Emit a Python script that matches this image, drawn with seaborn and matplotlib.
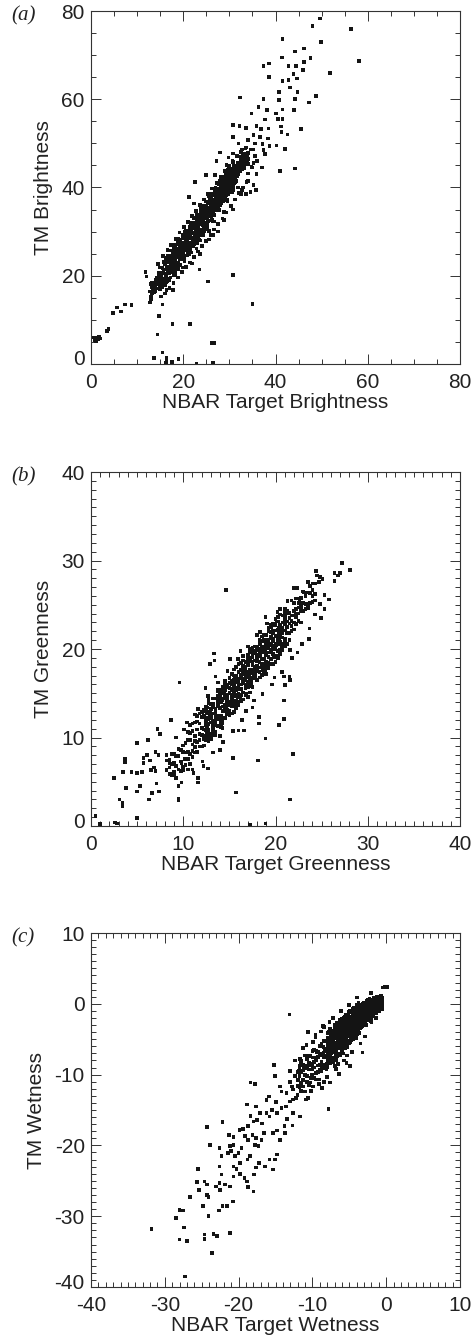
import matplotlib
matplotlib.use("Agg")
import matplotlib.pyplot as plt
import matplotlib.transforms as mtransforms
import seaborn as sns
import pandas as pd
from matplotlib.ticker import MultipleLocator

# ---------------- Panel (a): Brightness ----------------
a_outer = [
    (49.6, 78.3), (48.0, 76.6), (56.3, 75.9), (49.8, 73.0), (41.5, 73.6), (58.1, 68.7),
    (44.2, 70.8), (46.2, 71.5), (42.8, 67.6), (44.5, 67.5), (46.2, 68.5), (47.6, 69.3),
    (38.6, 68.1), (37.4, 67.5), (41.4, 69.5), (51.8, 66.0), (38.6, 65.1), (45.9, 66.6),
    (43.9, 65.7), (42.8, 64.3), (44.6, 64.7), (41.5, 64.1), (43.1, 62.7), (40.7, 61.7),
    (44.8, 61.7), (48.8, 60.7), (32.3, 60.4), (37.4, 60.0), (40.8, 59.8), (44.2, 60.0),
    (47.2, 59.3), (44.0, 57.6), (41.5, 57.7), (40.1, 56.8), (38.1, 57.6), (36.3, 58.2),
    (34.8, 56.8), (40.5, 55.5), (41.5, 55.6), (37.7, 55.4), (30.8, 54.2), (32.2, 53.9),
    (33.6, 53.5), (35.9, 53.9), (36.8, 53.2), (38.5, 53.4), (41.2, 53.8), (45.5, 53.2),
    (41.3, 52.6), (42.6, 52.0), (35.2, 51.9), (36.6, 51.5), (38.4, 51.1), (30.8, 51.5),
    (34.1, 50.8), (32.0, 50.0), (35.6, 50.0), (37.2, 49.8), (40.2, 49.5), (33.7, 49.1),
    (32.7, 48.6), (35.2, 48.6), (37.4, 48.5), (38.7, 49.4), (42.1, 48.7), (37.7, 47.6),
    (30.8, 47.7), (27.9, 47.9), (29.8, 46.8), (32.2, 47.0), (33.7, 46.4), (35.6, 47.1),
    (27.2, 46.0), (30.8, 45.8), (33.0, 45.8), (35.2, 45.5), (29.4, 45.1), (31.4, 44.9),
    (33.2, 44.7), (34.8, 44.7), (37.0, 44.5), (41.0, 43.8), (44.2, 44.3), (30.8, 43.8),
    (32.3, 43.6), (34.1, 43.2), (35.9, 43.1), (26.9, 42.8), (28.7, 42.4), (30.5, 42.4),
    (24.9, 42.8), (22.5, 41.3), (33.7, 41.3), (35.2, 40.6), (32.7, 39.4), (34.6, 39.0),
    (35.7, 39.4), (33.6, 38.6), (32.5, 38.6), (30.8, 35.0), (21.3, 37.9), (22.3, 36.4),
    (28.8, 32.6), (27.6, 30.0), (26.5, 29.2), (25.6, 28.2), (23.6, 24.9), (21.9, 22.8),
    (23.5, 21.4), (30.8, 20.2), (25.4, 18.7), (11.8, 20.9), (12.0, 19.8), (14.2, 19.0),
    (12.8, 16.4), (16.4, 16.8), (17.8, 16.8), (35.0, 13.6), (12.8, 13.9), (15.5, 13.5),
    (7.4, 13.5), (8.8, 13.4), (5.6, 12.8), (4.7, 11.6), (6.5, 11.9), (14.8, 10.9),
    (17.7, 9.1), (21.4, 9.1), (3.8, 7.9), (3.5, 7.5), (14.4, 6.7),
    (0.4, 6.0), (0.9, 5.9), (1.3, 5.6), (0.9, 5.4), (1.7, 5.9), (1.5, 5.7), (2.0, 5.8),
    (1.1, 5.2), (1.8, 6.1), (26.2, 4.8), (26.7, 4.8), (15.5, 2.6), (13.7, 1.3),
    (16.4, 1.5), (16.4, 0.75), (17.6, 0.5), (19.0, 1.05), (22.9, 0.05), (26.5, 0.15),
    (16.2, 0.15),
]
a_halo = [
    (14.5, 22.6), (15.2, 15.3), (15.6, 24.5), (16.1, 16.0), (16.6, 25.9), (17.0, 17.2),
    (17.4, 27.0), (17.9, 18.4), (18.3, 28.4), (18.8, 19.6), (19.2, 29.8), (19.7, 20.8),
    (20.1, 31.0), (20.6, 22.0), (21.0, 32.2), (21.4, 23.0), (21.9, 33.6), (22.3, 24.3),
    (22.8, 34.7), (23.2, 25.5), (23.6, 36.0), (24.1, 26.8), (24.5, 37.3), (25.0, 27.9),
    (25.4, 38.6), (25.9, 29.2), (26.3, 39.8), (26.7, 30.5), (27.2, 41.0), (27.6, 31.8),
    (28.1, 42.4), (28.5, 33.0), (29.0, 43.7), (29.4, 34.3), (29.9, 44.8), (30.3, 35.8),
    (30.7, 46.0), (31.2, 37.3), (31.6, 47.2), (32.1, 38.8), (32.5, 48.0), (33.0, 40.0),
    (33.5, 49.0), (34.0, 41.5), (34.6, 48.6), (35.0, 44.5), (35.5, 47.0), (36.0, 46.0),
    (16.3, 24.0), (18.0, 26.8), (19.9, 21.9), (21.6, 31.8), (22.9, 26.2), (24.4, 35.9),
    (25.6, 30.2), (27.0, 40.0), (28.8, 34.5), (30.1, 44.0), (31.9, 40.0), (33.2, 47.6),
    (17.2, 19.6), (19.0, 22.7), (20.4, 29.9), (23.7, 28.0), (26.8, 32.3), (29.6, 37.0),
]
a_fill = [
    (16.1, 18.7), (16.1, 22.8), (16.4, 23.6), (16.4, 22.1), (16.7, 20.8), (16.7, 23.9),
    (17.0, 23.8), (17.0, 21.0), (17.3, 21.8), (17.3, 22.3), (17.6, 21.6), (17.6, 22.5),
    (17.9, 22.7), (17.9, 24.4), (18.2, 25.5), (18.2, 23.8), (18.5, 23.0), (18.5, 26.2),
    (18.8, 22.9), (18.8, 25.9), (19.1, 26.2), (19.1, 24.5), (19.4, 28.1), (19.4, 27.0),
    (19.7, 23.7), (19.7, 26.5), (20.0, 24.7), (20.0, 29.2), (20.3, 26.8), (20.3, 26.5),
    (20.6, 27.8), (20.6, 25.7), (20.9, 25.2), (20.9, 29.5), (21.2, 29.0), (21.2, 25.6),
    (21.5, 27.3), (21.5, 29.3), (21.8, 26.6), (21.8, 31.9), (22.1, 31.6), (22.1, 28.2),
    (22.4, 27.2), (22.4, 29.8), (22.7, 28.9), (22.7, 29.4), (23.0, 29.1), (23.0, 32.6),
    (23.3, 28.7), (23.3, 32.9), (23.6, 33.5), (23.6, 29.6), (23.9, 33.8), (23.9, 29.9),
    (24.2, 32.6), (24.2, 31.5), (24.5, 34.8), (24.5, 31.8), (24.8, 34.3), (24.8, 33.2),
    (25.1, 31.5), (25.1, 33.1), (25.4, 33.9), (25.4, 34.8), (25.7, 37.3), (25.7, 34.7),
    (26.0, 35.6), (26.0, 33.5), (26.3, 34.5), (26.3, 36.9), (26.6, 36.2), (26.6, 35.4),
    (26.9, 35.9), (26.9, 38.2), (27.2, 35.6), (27.2, 36.8), (27.5, 35.0), (27.5, 39.2),
    (27.8, 37.5), (27.8, 35.0), (28.1, 40.2), (28.1, 35.9), (28.4, 37.3), (28.4, 41.4),
    (28.7, 41.6), (28.7, 37.0), (29.0, 37.8), (29.0, 41.8), (29.3, 40.2), (29.3, 39.3),
    (29.6, 41.2), (29.6, 40.1), (29.9, 39.2), (29.9, 43.4), (30.2, 43.5), (30.2, 41.5),
    (30.5, 44.2), (30.5, 38.9), (30.8, 43.9), (30.8, 39.4),
]
a_core = [
    (13.0, 14.7), (13.0, 15.3), (13.0, 18.1), (13.25, 17.3), (13.25, 16.0), (13.25, 18.3),
    (13.5, 18.3), (13.5, 16.2), (13.5, 16.5), (13.75, 17.2), (13.75, 16.3), (13.75, 17.8),
    (14.0, 17.2), (14.0, 16.6), (14.0, 19.0), (14.25, 18.1), (14.25, 17.1), (14.25, 19.6),
    (14.5, 17.1), (14.5, 19.4), (14.5, 18.8), (14.75, 18.3), (14.75, 20.7), (14.75, 19.9),
    (15.0, 16.9), (15.0, 19.7), (15.0, 17.4), (15.0, 21.9),
    (15.25, 19.5), (15.25, 18.7), (15.25, 20.1), (15.25, 18.0),
    (15.5, 17.4), (15.5, 21.7), (15.5, 20.7), (15.5, 18.4),
    (15.75, 19.0), (15.75, 21.0), (15.75, 17.8), (15.75, 23.1),
    (16.0, 22.7), (16.0, 19.4), (16.0, 17.9), (16.0, 20.5),
    (16.25, 19.5), (16.25, 20.1), (16.25, 21.4), (16.25, 18.6),
    (16.5, 18.8), (16.5, 23.0), (16.5, 22.1), (16.5, 19.3),
    (16.75, 23.5), (16.75, 24.4), (16.75, 21.8), (16.75, 20.7),
    (17.0, 24.4), (17.0, 20.6), (17.0, 23.3), (17.0, 21.9), (17.0, 19.1),
    (17.25, 21.6), (17.25, 22.0), (17.25, 23.2), (17.25, 25.7), (17.25, 22.5),
    (17.5, 23.4), (17.5, 20.8), (17.5, 21.4), (17.5, 24.4), (17.5, 23.0),
    (17.75, 23.8), (17.75, 22.5), (17.75, 25.4), (17.75, 21.6), (17.75, 23.0),
    (18.0, 20.7), (18.0, 21.1), (18.0, 23.2), (18.0, 20.1), (18.0, 26.0),
    (18.25, 21.0), (18.25, 22.2), (18.25, 20.3), (18.25, 27.0), (18.25, 26.4),
    (18.5, 22.2), (18.5, 21.4), (18.5, 24.6), (18.5, 24.9), (18.5, 25.3),
    (18.75, 24.3), (18.75, 22.6), (18.75, 27.8), (18.75, 27.5), (18.75, 24.9),
    (19.0, 28.1), (19.0, 21.6), (19.0, 27.2), (19.0, 28.3), (19.0, 24.6),
    (19.25, 23.8), (19.25, 27.6), (19.25, 22.4), (19.25, 27.2), (19.25, 26.5),
    (19.5, 26.4), (19.5, 24.5), (19.5, 25.3), (19.5, 26.9), (19.5, 24.1),
    (19.75, 25.9), (19.75, 26.5), (19.75, 25.4), (19.75, 24.1), (19.75, 25.1),
    (20.0, 29.1), (20.0, 28.5), (20.0, 25.1), (20.0, 27.5), (20.0, 24.8),
    (20.25, 24.0), (20.25, 23.2), (20.25, 29.7), (20.25, 28.9), (20.25, 26.4),
    (20.5, 28.2), (20.5, 29.7), (20.5, 27.6), (20.5, 30.2), (20.5, 26.0),
    (20.75, 28.3), (20.75, 26.4), (20.75, 30.1), (20.75, 24.6), (20.75, 27.2),
    (21.0, 27.4), (21.0, 26.1), (21.0, 28.9), (21.0, 30.2), (21.0, 25.2),
    (21.25, 27.5), (21.25, 29.4), (21.25, 25.1), (21.25, 26.5), (21.25, 24.8),
    (21.5, 28.5), (21.5, 26.0), (21.5, 27.1), (21.5, 30.3), (21.5, 31.0),
    (21.75, 28.6), (21.75, 31.7), (21.75, 25.3), (21.75, 30.1), (21.75, 27.0),
    (22.0, 28.0), (22.0, 29.7), (22.0, 32.1), (22.0, 26.9), (22.0, 30.8),
    (22.25, 32.0), (22.25, 29.8), (22.25, 26.7), (22.25, 27.5), (22.25, 33.0),
    (22.5, 28.5), (22.5, 30.9), (22.5, 27.6), (22.5, 29.3), (22.5, 33.1),
    (22.75, 32.0), (22.75, 30.6), (22.75, 31.4), (22.75, 29.4), (22.75, 28.2),
    (23.0, 33.8), (23.0, 31.4), (23.0, 27.4), (23.0, 32.6), (23.0, 29.6),
    (23.25, 28.5), (23.25, 29.7), (23.25, 31.4), (23.25, 33.2), (23.25, 30.6),
    (23.5, 33.8), (23.5, 28.2), (23.5, 32.7), (23.5, 31.7), (23.5, 30.4),
    (23.75, 34.4), (23.75, 29.3), (23.75, 33.3), (23.75, 32.0), (23.75, 35.1),
    (24.0, 29.7), (24.0, 31.6), (24.0, 33.0), (24.0, 35.4), (24.0, 30.5),
    (24.25, 29.3), (24.25, 34.2), (24.25, 33.0), (24.25, 31.6), (24.25, 32.4),
    (24.5, 33.6), (24.5, 34.9), (24.5, 30.7), (24.5, 32.1), (24.5, 30.0),
    (24.75, 31.2), (24.75, 35.9), (24.75, 30.5), (24.75, 33.6), (24.75, 34.4),
    (25.0, 36.8), (25.0, 31.9), (25.0, 30.9), (25.0, 35.8), (25.0, 33.4),
    (25.25, 30.8), (25.25, 32.4), (25.25, 36.6), (25.25, 33.9), (25.25, 35.2),
    (25.5, 34.0), (25.5, 35.3), (25.5, 32.3), (25.5, 38.0), (25.5, 36.4),
    (25.75, 36.5), (25.75, 38.1), (25.75, 34.9), (25.75, 33.7), (25.75, 32.5),
    (26.0, 37.7), (26.0, 36.1), (26.0, 33.5), (26.0, 34.6), (26.0, 35.3),
    (26.25, 32.7), (26.25, 33.8), (26.25, 38.6), (26.25, 36.4), (26.25, 35.2),
    (26.5, 32.3), (26.5, 34.7), (26.5, 35.8), (26.5, 37.2), (26.5, 36.6),
    (26.75, 33.7), (26.75, 39.3), (26.75, 37.3), (26.75, 35.1), (26.75, 36.2),
    (27.0, 38.7), (27.0, 35.3), (27.0, 37.6), (27.0, 36.3), (27.0, 34.8),
    (27.25, 36.4), (27.25, 38.3), (27.25, 35.6), (27.25, 39.1), (27.25, 37.0),
    (27.5, 35.7), (27.5, 39.8), (27.5, 36.6), (27.5, 38.8), (27.5, 37.8),
    (27.75, 36.9), (27.75, 40.8), (27.75, 39.5), (27.75, 34.8), (27.75, 38.3),
    (28.0, 35.9), (28.0, 41.5), (28.0, 38.0), (28.0, 36.9), (28.0, 39.6),
    (28.25, 36.4), (28.25, 37.6), (28.25, 40.7), (28.25, 39.4), (28.25, 38.5),
    (28.5, 37.2), (28.5, 39.6), (28.5, 38.4), (28.5, 42.3), (28.5, 41.4),
    (28.75, 37.5), (28.75, 40.3), (28.75, 39.0), (28.75, 41.2), (28.75, 38.0),
    (29.0, 38.6), (29.0, 37.1), (29.0, 40.2), (29.0, 41.6), (29.0, 39.4),
    (29.25, 38.2), (29.25, 42.0), (29.25, 40.8), (29.25, 39.9), (29.25, 43.0),
    (29.5, 42.5), (29.5, 38.8), (29.5, 41.4), (29.5, 40.0), (29.5, 37.2),
    (29.75, 39.7), (29.75, 38.4), (29.75, 41.3), (29.75, 43.9), (29.75, 42.3),
    (30.0, 41.4), (30.0, 39.3), (30.0, 42.7), (30.0, 40.5),
    (30.25, 40.1), (30.25, 41.8), (30.25, 43.0), (30.25, 39.2),
    (30.5, 40.4), (30.5, 42.6), (30.5, 43.8), (30.5, 41.3),
    (30.75, 41.7), (30.75, 40.4), (30.75, 44.0), (30.75, 42.9),
    (31.0, 41.0), (31.0, 43.5), (31.0, 44.9), (31.0, 42.2),
    (31.25, 41.1), (31.25, 44.1), (31.25, 43.0), (31.25, 42.0),
    (31.5, 43.9), (31.5, 42.9), (31.5, 41.5), (31.5, 44.8),
    (31.75, 45.7), (31.75, 43.7), (31.75, 42.5), (31.75, 44.6),
    (32.0, 45.2), (32.0, 43.0), (32.0, 44.3), (32.25, 45.6), (32.25, 43.9), (32.25, 44.8),
    (32.5, 45.6), (32.5, 44.2), (32.5, 46.3), (32.75, 44.2), (32.75, 45.6), (32.75, 47.0),
    (33.0, 44.3), (33.0, 46.0), (33.0, 47.2), (33.25, 45.5), (33.25, 46.6), (33.25, 44.3),
    (33.5, 47.6), (33.5, 46.1), (33.5, 45.2), (33.75, 47.0), (33.75, 45.4), (33.75, 46.1),
    (34.0, 45.4), (34.0, 47.8), (34.0, 46.5),
]

# ---------------- Panel (b): Greenness ----------------
b_outer = [
    (14.6, 26.7), (27.2, 29.7), (28.1, 28.9), (26.4, 28.6), (26.8, 28.3), (27.0, 28.6),
    (24.4, 28.8), (24.5, 28.3), (24.8, 28.1), (25.1, 27.9), (24.7, 27.6), (26.4, 27.7),
    (24.0, 26.0), (25.3, 26.1), (25.8, 25.6), (24.8, 25.1), (25.3, 24.5), (24.9, 23.5),
    (24.3, 23.9), (23.7, 22.3), (23.6, 21.1), (22.4, 19.6), (21.5, 16.9), (21.6, 16.5),
    (20.9, 16.9), (21.0, 15.9), (20.9, 14.2), (20.9, 12.1), (20.4, 11.4), (18.2, 11.6),
    (18.2, 12.3), (18.9, 9.9), (21.9, 8.1), (18.1, 7.4), (15.4, 7.7), (15.7, 3.8),
    (21.6, 3.0), (9.6, 16.2), (16.6, 10.8), (16.0, 10.8), (13.3, 19.5), (13.4, 18.7),
    (12.9, 18.3), (8.7, 12.0), (7.2, 11.0), (7.5, 10.4), (5.0, 9.4), (6.2, 9.7),
    (2.5, 5.4), (3.7, 7.6), (3.7, 7.2), (3.5, 6.1), (3.4, 2.6), (3.4, 2.3), (3.1, 3.0),
    (3.8, 4.3), (4.4, 6.1), (5.0, 6.0), (5.5, 6.1), (5.0, 3.9), (5.3, 4.5), (5.7, 7.7),
    (5.7, 7.1), (6.1, 8.0), (6.4, 7.4), (6.5, 6.3), (7.0, 6.2), (6.8, 6.6), (6.3, 3.0),
    (6.6, 3.7), (7.1, 4.8), (7.4, 3.9), (7.0, 8.4), (7.3, 8.0), (8.2, 8.0), (8.2, 7.4),
    (8.5, 7.1), (5.0, 0.9), (0.5, 1.1), (1.0, 0.2), (2.6, 0.4), (2.8, 0.3), (17.2, 0.1),
    (18.9, 0.3), (9.5, 4.5), (9.5, 3.1), (9.5, 2.9), (11.6, 5.4), (11.6, 4.9), (11.1, 6.0),
    (12.2, 6.8), (12.7, 6.5), (9.8, 7.1), (10.0, 6.7), (10.2, 7.6), (9.0, 5.9), (8.6, 5.9),
    (8.2, 6.3), (14.0, 8.6), (22.6, 25.3), (23.1, 26.4), (22.0, 26.9), (21.3, 24.3),
]
b_halo = [
    (9.2, 10.0), (9.8, 4.9), (10.4, 11.7), (11.0, 6.4), (11.6, 13.2), (12.1, 7.3),
    (12.7, 14.7), (13.2, 8.3), (13.8, 16.2), (14.3, 9.5), (14.8, 17.5), (15.4, 10.7),
    (15.9, 18.9), (16.4, 12.0), (17.0, 20.3), (17.5, 13.4), (18.0, 21.6), (18.6, 14.9),
    (19.1, 22.9), (19.6, 16.0), (20.2, 24.2), (20.7, 17.4), (21.3, 25.4), (21.8, 19.0),
    (22.4, 26.9), (22.9, 20.6), (23.5, 27.6), (12.4, 15.6), (14.0, 10.2), (15.1, 18.9),
    (16.8, 13.0), (18.3, 21.9), (19.9, 16.8), (13.5, 16.9), (16.2, 19.8), (17.7, 14.2),
    (20.5, 24.5), (11.3, 12.6), (10.1, 10.9), (18.9, 23.6), (21.6, 19.9),
]
b_fill = [
    (12.6, 13.4), (12.6, 11.1), (12.6, 10.4), (12.6, 12.8),
    (12.9, 10.0), (12.9, 12.9), (12.9, 12.5), (12.9, 12.2),
    (13.2, 11.4), (13.2, 11.9), (13.2, 12.7), (13.2, 11.2),
    (13.5, 12.4), (13.5, 12.8), (13.5, 12.0), (13.5, 11.4),
    (13.8, 12.4), (13.8, 14.5), (13.8, 14.2), (13.8, 12.1),
    (14.1, 14.0), (14.1, 12.4), (14.1, 11.7), (14.1, 11.2),
    (14.4, 15.5), (14.4, 15.0), (14.4, 13.5), (14.4, 14.4),
    (14.7, 15.7), (14.7, 14.8), (14.7, 16.0), (14.7, 13.4),
    (15.0, 15.0), (15.0, 13.8), (15.0, 16.1), (15.0, 12.8),
    (15.3, 14.7), (15.3, 14.6), (15.3, 13.9), (15.3, 15.5),
    (15.6, 16.7), (15.6, 13.7), (15.6, 14.8), (15.6, 14.7),
    (15.9, 13.8), (15.9, 14.6), (15.9, 13.6), (15.9, 15.6),
    (16.2, 14.5), (16.2, 14.4), (16.2, 17.1), (16.2, 17.0),
    (16.5, 16.2), (16.5, 18.1), (16.5, 14.3), (16.5, 17.2),
    (16.8, 14.9), (16.8, 16.0), (16.8, 17.1), (16.8, 18.5),
    (17.1, 15.8), (17.1, 16.9), (17.1, 18.6), (17.1, 17.3),
    (17.4, 15.9), (17.4, 16.3), (17.4, 19.7), (17.4, 16.7),
    (17.7, 17.1), (17.7, 16.9), (17.7, 17.6), (17.7, 19.8),
    (18.0, 19.3), (18.0, 18.6), (18.0, 19.0), (18.0, 17.8),
    (18.3, 20.0), (18.3, 20.6), (18.3, 19.2), (18.3, 16.8),
    (18.6, 19.6), (18.6, 17.1), (18.6, 17.6), (18.6, 18.3),
    (18.9, 19.7), (18.9, 17.6), (18.9, 19.5), (18.9, 21.0),
    (19.2, 18.0), (19.2, 20.7), (19.2, 20.1), (19.2, 18.4),
    (19.5, 21.9), (19.5, 18.8), (19.5, 21.2), (19.5, 20.4),
    (19.8, 22.7), (19.8, 19.2), (19.8, 19.1), (19.8, 21.2),
    (20.1, 23.1), (20.1, 20.4), (20.1, 19.2), (20.1, 22.1),
    (20.4, 22.4), (20.4, 20.9), (20.4, 21.9), (20.4, 21.3),
    (20.7, 22.3), (20.7, 20.6), (20.7, 22.1), (20.7, 20.2),
    (21.0, 21.1), (21.0, 23.9), (21.0, 20.6), (21.0, 23.3),
]
b_core = [
    (8.5, 5.9), (8.5, 6.6), (8.5, 7.5), (8.75, 7.0), (8.75, 8.1), (8.75, 5.8),
    (9.0, 7.1), (9.0, 6.1), (9.0, 8.2), (9.25, 5.4), (9.25, 6.8), (9.25, 7.9),
    (9.5, 6.4), (9.5, 7.9), (9.5, 8.7), (9.75, 6.2), (9.75, 7.3), (9.75, 8.6),
    (10.0, 6.3), (10.0, 8.4), (10.0, 9.1), (10.25, 8.3), (10.25, 6.9), (10.25, 9.4),
    (10.5, 9.7), (10.5, 10.6), (10.5, 8.4), (10.5, 7.6), (10.5, 6.4),
    (10.75, 9.7), (10.75, 7.0), (10.75, 8.1), (10.75, 10.5), (10.75, 11.4),
    (11.0, 7.8), (11.0, 9.2), (11.0, 10.7), (11.0, 11.6), (11.0, 8.5),
    (11.25, 8.3), (11.25, 11.7), (11.25, 10.2), (11.25, 8.9), (11.25, 9.6),
    (11.5, 9.5), (11.5, 11.8), (11.5, 10.9), (11.5, 8.4), (11.5, 12.4),
    (11.75, 9.7), (11.75, 11.6), (11.75, 10.4), (11.75, 12.7), (11.75, 9.0),
    (12.0, 11.1), (12.0, 12.3), (12.0, 9.0), (12.0, 10.3), (12.0, 12.9),
    (12.25, 9.8), (12.25, 10.9), (12.25, 12.4), (12.25, 9.1), (12.25, 13.1),
    (12.5, 11.4), (12.5, 10.2), (12.5, 13.0), (12.5, 9.7), (12.5, 12.2), (12.5, 11.9), (12.5, 13.5), (12.5, 10.8),
    (12.75, 9.6), (12.75, 12.1), (12.75, 13.9), (12.75, 10.7), (12.75, 11.5), (12.75, 12.7), (12.75, 14.3), (12.75, 10.9),
    (13.0, 12.3), (13.0, 12.4), (13.0, 13.2), (13.0, 10.3), (13.0, 11.7), (13.0, 9.8), (13.0, 10.4), (13.0, 13.8),
    (13.25, 10.3), (13.25, 13.4), (13.25, 13.8), (13.25, 14.4), (13.25, 11.0), (13.25, 10.5), (13.25, 13.7), (13.25, 11.3),
    (13.5, 10.3), (13.5, 10.6), (13.5, 14.4), (13.5, 12.5), (13.5, 11.6), (13.5, 12.3), (13.5, 13.2), (13.5, 11.9),
    (13.75, 15.4), (13.75, 13.5), (13.75, 14.1), (13.75, 15.2), (13.75, 13.8), (13.75, 12.1), (13.75, 11.3), (13.75, 14.7),
    (14.0, 14.5), (14.0, 12.1), (14.0, 13.3), (14.0, 15.2), (14.0, 11.3), (14.0, 12.3), (14.0, 15.4), (14.0, 14.8),
    (14.25, 15.2), (14.25, 11.1), (14.25, 12.0), (14.25, 13.5), (14.25, 11.6), (14.25, 13.0), (14.25, 14.2), (14.25, 15.7),
    (14.5, 14.6), (14.5, 13.1), (14.5, 15.9), (14.5, 15.4), (14.5, 13.0), (14.5, 12.2), (14.5, 13.7), (14.5, 16.4),
    (14.75, 13.8), (14.75, 12.9), (14.75, 14.6), (14.75, 15.7), (14.75, 14.2), (14.75, 13.1), (14.75, 15.9), (14.75, 12.6),
    (15.0, 15.6), (15.0, 16.2), (15.0, 14.0), (15.0, 16.7), (15.0, 15.1), (15.0, 12.5), (15.0, 13.6), (15.0, 13.0),
    (15.25, 17.2), (15.25, 14.8), (15.25, 16.0), (15.25, 15.3), (15.25, 13.5), (15.25, 12.7), (15.25, 16.4), (15.25, 14.2),
    (15.5, 12.9), (15.5, 14.1), (15.5, 15.8), (15.5, 16.5), (15.5, 17.7), (15.5, 17.0), (15.5, 15.2), (15.5, 14.7),
    (15.75, 15.4), (15.75, 14.2), (15.75, 16.3), (15.75, 14.0), (15.75, 13.8), (15.75, 13.3), (15.75, 17.0), (15.75, 18.0),
    (16.0, 14.0), (16.0, 17.4), (16.0, 16.2), (16.0, 15.9), (16.0, 14.9), (16.0, 18.3), (16.0, 15.5), (16.0, 16.6),
    (16.25, 16.0), (16.25, 14.1), (16.25, 15.5), (16.25, 17.0), (16.25, 16.7), (16.25, 18.4), (16.25, 17.6), (16.25, 14.8),
    (16.5, 15.1), (16.5, 18.7), (16.5, 17.6), (16.5, 16.6), (16.5, 16.1), (16.5, 17.2), (16.5, 18.1), (16.5, 19.2),
    (16.75, 16.7), (16.75, 14.8), (16.75, 17.6), (16.75, 16.5), (16.75, 18.0), (16.75, 18.5), (16.75, 17.2), (16.75, 15.6),
    (17.0, 14.6), (17.0, 19.3), (17.0, 18.9), (17.0, 15.7), (17.0, 16.3), (17.0, 17.4), (17.0, 18.2), (17.0, 16.8),
    (17.25, 17.3), (17.25, 16.0), (17.25, 19.7), (17.25, 16.6), (17.25, 17.7), (17.25, 20.0), (17.25, 15.1), (17.25, 19.0),
    (17.5, 20.1), (17.5, 17.5), (17.5, 16.7), (17.5, 19.4), (17.5, 15.7), (17.5, 19.1), (17.5, 18.6), (17.5, 18.2),
    (17.75, 17.2), (17.75, 17.8), (17.75, 18.7), (17.75, 17.0), (17.75, 18.0), (17.75, 19.5), (17.75, 20.3), (17.75, 16.7),
    (18.0, 17.8), (18.0, 20.3), (18.0, 19.9), (18.0, 17.5), (18.0, 19.2), (18.0, 18.7), (18.0, 16.5), (18.0, 18.1),
    (18.25, 20.8), (18.25, 21.0), (18.25, 18.5), (18.25, 19.5), (18.25, 17.4), (18.25, 19.6), (18.25, 16.8), (18.25, 17.9),
    (18.5, 19.6), (18.5, 18.3), (18.5, 20.9), (18.5, 17.0), (18.5, 18.8), (18.5, 20.2), (18.5, 17.9), (18.5, 21.4),
    (18.75, 21.0), (18.75, 17.5), (18.75, 18.9), (18.75, 20.3), (18.75, 17.2), (18.75, 18.2), (18.75, 19.8), (18.75, 21.6),
    (19.0, 17.9), (19.0, 20.2), (19.0, 20.9), (19.0, 19.3), (19.0, 18.6), (19.0, 21.6), (19.0, 17.2), (19.0, 20.5),
    (19.25, 17.8), (19.25, 19.1), (19.25, 20.3), (19.25, 22.0), (19.25, 18.4), (19.25, 21.0), (19.25, 19.6), (19.25, 22.4),
    (19.5, 18.3), (19.5, 18.9), (19.5, 22.7), (19.5, 20.6), (19.5, 19.6), (19.5, 21.4), (19.5, 19.9), (19.5, 22.5),
    (19.75, 21.8), (19.75, 20.9), (19.75, 19.4), (19.75, 20.0), (19.75, 22.1), (19.75, 22.8), (19.75, 20.4), (19.75, 18.3),
    (20.0, 21.5), (20.0, 18.5), (20.0, 19.1), (20.0, 20.0), (20.0, 22.1), (20.0, 20.6), (20.0, 23.4), (20.0, 22.7),
    (20.25, 19.0), (20.25, 22.2), (20.25, 21.5), (20.25, 20.6), (20.25, 23.1), (20.25, 19.8), (20.25, 21.0), (20.25, 23.6),
    (20.5, 23.9), (20.5, 19.9), (20.5, 21.3), (20.5, 22.2), (20.5, 22.7), (20.5, 20.8), (20.5, 19.4), (20.5, 21.6),
    (20.75, 23.0), (20.75, 21.3), (20.75, 22.4), (20.75, 20.6), (20.75, 23.8), (20.75, 20.4), (20.75, 21.8), (20.75, 19.9),
    (21.0, 20.9), (21.0, 24.2), (21.0, 20.3), (21.0, 23.5), (21.0, 22.1), (21.0, 24.5), (21.0, 22.8), (21.0, 20.6),
    (21.25, 24.0), (21.25, 21.8), (21.25, 20.6), (21.25, 23.1), (21.25, 22.5),
    (21.5, 22.9), (21.5, 21.0), (21.5, 24.1), (21.5, 23.5), (21.5, 21.8),
    (21.75, 25.5), (21.75, 23.8), (21.75, 22.6), (21.75, 23.2), (21.75, 22.0),
    (22.0, 23.0), (22.0, 22.2), (22.0, 25.2), (22.0, 23.8), (22.0, 24.3),
    (22.25, 22.8), (22.25, 25.7), (22.25, 23.6), (22.25, 24.5), (22.25, 24.0),
    (22.5, 25.7), (22.5, 24.7), (22.5, 23.2), (22.5, 24.0), (22.5, 25.2),
    (22.75, 24.3), (22.75, 23.0), (22.75, 25.0), (22.75, 25.8), (22.75, 24.5),
    (23.0, 24.3), (23.0, 26.5), (23.0, 25.2), (23.25, 24.5), (23.25, 26.0), (23.25, 25.1),
    (23.5, 24.6), (23.5, 26.4), (23.5, 25.1), (23.75, 25.2), (23.75, 27.1), (23.75, 26.3),
    (24.0, 25.3), (24.0, 26.7), (24.0, 27.4), (24.25, 27.4), (24.25, 26.2), (24.25, 25.5),
]

# ---------------- Panel (c): Wetness ----------------
c_outer = [
    (-31.8, -31.8), (-28.5, -30.3), (-28.0, -29.1), (-27.5, -29.2), (-27.4, -31.6),
    (-28.0, -33.3), (-27.0, -33.5), (-27.3, -38.5), (-23.6, -35.2), (-24.6, -32.6),
    (-24.6, -33.2), (-23.4, -32.5), (-22.9, -32.8), (-21.2, -32.4), (-24.1, -30.0),
    (-24.8, -28.6), (-22.7, -29.2), (-22.2, -28.6), (-21.6, -28.6), (-20.8, -27.9),
    (-26.6, -27.3), (-24.3, -27.0), (-24.1, -27.3), (-25.4, -26.3), (-25.6, -25.2),
    (-24.6, -25.1), (-24.3, -25.5), (-23.1, -25.8), (-22.6, -25.3), (-22.5, -26.3),
    (-21.8, -25.5), (-21.2, -25.8), (-25.5, -23.3), (-24.3, -17.4), (-23.9, -19.9),
    (-22.6, -20.4), (-22.3, -21.5), (-22.6, -23.0), (-22.3, -24.1), (-21.2, -20.1),
    (-21.0, -20.8), (-21.4, -21.1), (-21.3, -18.5), (-20.7, -18.8), (-20.7, -19.9),
    (-22.2, -16.7), (-20.5, -21.5), (-20.0, -21.1), (-20.7, -23.0), (-20.3, -23.3),
    (-19.8, -22.5), (-20.7, -24.4), (-19.8, -24.0), (-19.2, -24.6), (-18.9, -25.1),
    (-18.7, -25.9), (-18.0, -26.5), (-17.9, -24.1), (-17.6, -23.1), (-17.2, -22.5),
    (-16.4, -23.0), (-15.8, -22.0), (-15.3, -23.4), (-15.1, -22.0), (-14.8, -21.3),
    (-18.8, -22.0), (-18.5, -21.5), (-19.9, -17.8), (-19.4, -17.7), (-19.1, -18.7),
    (-18.7, -19.2), (-18.1, -18.5), (-17.6, -19.0), (-17.8, -19.9), (-17.3, -20.1),
    (-16.9, -19.2), (-16.6, -18.2), (-18.4, -15.8), (-18.7, -17.3), (-18.0, -16.6),
    (-17.5, -16.4), (-18.9, -14.2), (-17.6, -14.5), (-17.1, -15.4), (-16.2, -15.4),
    (-18.4, -11.1), (-17.8, -11.3), (-15.8, -15.9), (-15.5, -15.0), (-14.8, -15.4),
    (-15.3, -18.2), (-14.8, -17.9), (-14.4, -19.2), (-13.8, -17.3), (-13.7, -18.2),
    (-12.7, -17.2), (-13.4, -16.3), (-12.6, -15.4), (-11.7, -15.9), (-14.2, -14.7),
    (-13.6, -14.5), (-13.0, -13.8), (-12.2, -13.3), (-15.2, -8.6), (-15.1, -10.2),
    (-14.4, -11.7), (-14.2, -12.4), (-13.5, -12.6), (-12.8, -11.7), (-12.6, -12.1),
    (-13.0, -9.5), (-12.4, -10.2), (-11.9, -10.7), (-11.5, -11.7), (-11.0, -12.4),
    (-10.6, -13.3), (-10.9, -13.5), (-13.1, -1.5), (-11.7, -7.8), (-11.5, -8.4),
    (-10.7, -7.7), (-11.8, -9.5), (-11.2, -9.2), (-10.3, -8.7), (-10.1, -10.0),
    (-9.6, -10.7), (-9.1, -10.7), (-9.9, -11.7), (-8.7, -11.9), (-8.4, -11.0),
    (-7.6, -11.1), (-7.8, -14.9), (-6.4, -9.9), (-10.6, -4.0), (-9.6, -4.4),
    (-8.6, -3.1), (-10.0, -6.7), (-9.4, -6.9), (-8.5, -6.9), (-8.7, -8.8),
    (-8.1, -9.3), (-7.6, -8.4), (-6.9, -8.8), (-5.4, -8.4), (-4.9, -8.8), (-3.2, -6.9),
    (0.1, 2.4), (-0.2, 2.4), (-0.4, 2.3), (-2.1, 1.5), (-0.5, -0.6), (-1.4, -2.0),
    (-16.2, -13.6), (-16.8, -16.9), (-15.9, -13.1), (-14.9, -13.9), (-19.6, -20.4),
]
c_halo = [
    (-10.8, -5.8), (-10.2, -12.3), (-9.6, -4.7), (-9.1, -11.3), (-8.4, -3.3), (-8.0, -10.3),
    (-7.2, -2.0), (-6.8, -9.2), (-6.1, -1.0), (-5.7, -8.0), (-5.0, -0.2), (-4.6, -6.8),
    (-4.0, 0.9), (-3.5, -5.6), (-2.9, -4.6), (-7.7, -2.6), (-6.5, -8.5), (-5.3, -7.3),
    (-8.8, -3.9), (-9.9, -5.4), (-11.3, -6.2), (-12.4, -8.0), (-13.0, -11.0), (-12.6, -13.5),
]
c_core = [
    (-12.0, -12.9), (-12.0, -10.8), (-12.0, -9.6), (-12.0, -11.6),
    (-11.75, -8.7), (-11.75, -9.1), (-11.75, -10.2), (-11.75, -11.8),
    (-11.5, -12.3), (-11.5, -8.1), (-11.5, -9.7), (-11.5, -11.2),
    (-11.25, -8.6), (-11.25, -9.4), (-11.25, -11.7), (-11.25, -10.8),
    (-11.0, -8.8), (-11.0, -7.3), (-11.0, -10.1), (-11.0, -9.1),
    (-10.75, -7.8), (-10.75, -10.2), (-10.75, -8.8), (-10.75, -11.0),
    (-10.5, -11.5), (-10.5, -9.3), (-10.5, -7.3), (-10.5, -8.4),
    (-10.25, -10.5), (-10.25, -9.3), (-10.25, -7.4), (-10.25, -11.1),
    (-10.0, -10.0), (-10.0, -7.6), (-10.0, -8.5), (-10.0, -9.2),
    (-9.75, -10.5), (-9.75, -6.5), (-9.75, -8.2), (-9.75, -9.0),
    (-9.5, -8.0), (-9.5, -9.8), (-9.5, -7.7), (-9.5, -6.6),
    (-9.25, -7.5), (-9.25, -8.7), (-9.25, -6.8), (-9.25, -9.6),
    (-9.0, -9.3), (-9.0, -8.6), (-9.0, -6.0), (-9.0, -7.1),
    (-8.75, -9.5), (-8.75, -8.2), (-8.75, -5.6), (-8.75, -7.3),
    (-8.5, -6.1), (-8.5, -9.1), (-8.5, -5.3), (-8.5, -7.6),
    (-8.25, -6.7), (-8.25, -5.3), (-8.25, -8.6), (-8.25, -7.4),
    (-8.0, -6.6), (-8.0, -8.9), (-8.0, -6.3), (-8.0, -7.6), (-8.0, -8.5), (-8.0, -5.2),
    (-7.875, -5.8), (-7.875, -7.9), (-7.875, -5.9), (-7.875, -4.1), (-7.875, -4.8), (-7.875, -7.1),
    (-7.75, -5.5), (-7.75, -6.1), (-7.75, -5.1), (-7.75, -4.0), (-7.75, -6.8), (-7.75, -7.6),
    (-7.625, -7.2), (-7.625, -6.6), (-7.625, -3.6), (-7.625, -7.7), (-7.625, -8.3), (-7.625, -6.0),
    (-7.5, -4.3), (-7.5, -6.1), (-7.5, -7.8), (-7.5, -3.9), (-7.5, -5.7), (-7.5, -7.0),
    (-7.375, -8.2), (-7.375, -5.0), (-7.375, -6.9), (-7.375, -3.8), (-7.375, -5.5), (-7.375, -4.6),
    (-7.25, -4.5), (-7.25, -7.8), (-7.25, -6.4), (-7.25, -5.8), (-7.25, -8.3), (-7.25, -5.2),
    (-7.125, -7.9), (-7.125, -6.4), (-7.125, -4.2), (-7.125, -7.6), (-7.125, -3.9), (-7.125, -4.8),
    (-7.0, -6.8), (-7.0, -5.9), (-7.0, -3.0), (-7.0, -7.7), (-7.0, -3.5), (-7.0, -6.4),
    (-6.875, -4.8), (-6.875, -6.2), (-6.875, -3.1), (-6.875, -4.5), (-6.875, -7.3), (-6.875, -5.6),
    (-6.75, -5.5), (-6.75, -3.0), (-6.75, -2.7), (-6.75, -7.9), (-6.75, -4.1), (-6.75, -6.5),
    (-6.625, -4.3), (-6.625, -6.1), (-6.625, -3.6), (-6.625, -3.1), (-6.625, -5.8), (-6.625, -7.4),
    (-6.5, -5.1), (-6.5, -4.6), (-6.5, -5.4), (-6.5, -6.2), (-6.5, -3.3), (-6.5, -7.0),
    (-6.375, -5.8), (-6.375, -4.4), (-6.375, -4.0), (-6.375, -2.7), (-6.375, -7.1), (-6.375, -6.3),
    (-6.25, -5.9), (-6.25, -5.1), (-6.25, -2.2), (-6.25, -3.0), (-6.25, -7.3), (-6.25, -4.4),
    (-6.125, -4.4), (-6.125, -2.5), (-6.125, -3.4), (-6.125, -6.1), (-6.125, -4.8), (-6.125, -5.4),
    (-6.0, -4.0), (-6.0, -2.9), (-6.0, -6.7), (-6.0, -5.2), (-6.0, -3.5), (-6.0, -2.1),
    (-5.875, -7.0), (-5.875, -5.6), (-5.875, -4.7), (-5.875, -2.5), (-5.875, -3.2), (-5.875, -4.6),
    (-5.75, -6.0), (-5.75, -2.0), (-5.75, -4.3), (-5.75, -5.4), (-5.75, -3.4), (-5.75, -4.8),
    (-5.625, -3.6), (-5.625, -6.3), (-5.625, -2.9), (-5.625, -5.1), (-5.625, -1.9), (-5.625, -4.6),
    (-5.5, -4.0), (-5.5, -1.5), (-5.5, -3.4), (-5.5, -5.2), (-5.5, -2.6), (-5.5, -6.2),
    (-5.375, -4.0), (-5.375, -3.0), (-5.375, -4.9), (-5.375, -2.1), (-5.375, -5.8), (-5.375, -1.6),
    (-5.25, -1.8), (-5.25, -3.0), (-5.25, -5.7), (-5.25, -4.3), (-5.25, -2.6), (-5.25, -6.1),
    (-5.125, -5.2), (-5.125, -3.4), (-5.125, -4.4), (-5.125, -2.2), (-5.125, -3.7), (-5.125, -1.4),
    (-5.0, -4.5), (-5.0, -1.8), (-5.0, -1.2), (-5.0, -5.5), (-5.0, -2.9), (-5.0, -3.6),
    (-4.875, -5.4), (-4.875, -2.7), (-4.875, -1.9), (-4.875, -4.0), (-4.875, -3.3), (-4.875, -1.0),
    (-4.75, -3.5), (-4.75, -4.4), (-4.75, -1.0), (-4.75, -2.3), (-4.75, -2.9), (-4.75, -5.1),
    (-4.625, -1.9), (-4.625, -1.1), (-4.625, -3.6), (-4.625, -4.3), (-4.625, -2.8), (-4.625, -4.6),
    (-4.5, -1.4), (-4.5, -4.0), (-4.5, -3.0), (-4.5, -0.7), (-4.5, -2.3), (-4.5, -5.0),
    (-4.375, -3.2), (-4.375, -4.0), (-4.375, -1.8), (-4.375, -2.6), (-4.375, -0.5), (-4.375, -4.6),
    (-4.25, -0.9), (-4.25, -3.4), (-4.25, -2.0), (-4.25, -1.5), (-4.25, -4.4), (-4.25, -3.0),
    (-4.125, -4.4), (-4.125, -2.7), (-4.125, -3.5), (-4.125, -4.9), (-4.125, -1.0), (-4.125, -2.1),
    (-4.0, -0.5), (-4.0, -3.6), (-4.0, -4.3), (-4.0, -1.6), (-4.0, -2.6), (-4.0, -0.2),
    (-3.875, -1.2), (-3.875, -0.7), (-3.875, -3.9), (-3.875, -3.1), (-3.875, -2.3), (-3.875, -0.2),
    (-3.75, -1.1), (-3.75, -1.7), (-3.75, 0.1), (-3.75, -2.8), (-3.75, -3.6), (-3.75, -2.5),
    (-3.625, -4.1), (-3.625, -2.2), (-3.625, -0.4), (-3.625, -1.4), (-3.625, -2.9), (-3.625, -0.9),
    (-3.5, -0.9), (-3.5, -3.4), (-3.5, -2.0), (-3.5, -0.4), (-3.5, -1.5), (-3.5, -2.6),
    (-3.375, -3.3), (-3.375, -0.5), (-3.375, -2.9), (-3.375, -1.3), (-3.375, -1.7), (-3.375, -0.1),
    (-3.25, -1.4), (-3.25, -2.6), (-3.25, -1.8), (-3.25, -0.3), (-3.25, -3.2), (-3.25, -0.6),
    (-3.125, -2.0), (-3.125, -1.4), (-3.125, 0.0), (-3.125, -2.7), (-3.125, -3.0), (-3.125, -0.6),
    (-3.0, 0.1), (-3.0, -1.4), (-3.0, -0.8), (-3.0, -2.8), (-3.0, -1.9), (-3.0, -2.5),
    (-2.875, -1.3), (-2.875, -0.8), (-2.875, -3.0), (-2.875, -0.4), (-2.875, -2.1), (-2.875, -2.7),
    (-2.75, -1.1), (-2.75, -2.0), (-2.75, -0.4), (-2.75, -3.0), (-2.75, -1.6), (-2.75, -2.3),
    (-2.625, -0.8), (-2.625, 0.4), (-2.625, -0.1), (-2.625, -1.6), (-2.625, -2.2), (-2.625, -1.3),
    (-2.5, -0.2), (-2.5, 0.5), (-2.5, -1.4), (-2.5, -1.9), (-2.5, -2.2), (-2.5, -0.7),
    (-2.375, 0.3), (-2.375, -1.9), (-2.375, -2.3), (-2.375, -0.8), (-2.375, -1.2), (-2.375, -0.5),
    (-2.25, -1.9), (-2.25, 0.7), (-2.25, -0.6), (-2.25, -1.4), (-2.25, -2.3), (-2.25, -0.2),
    (-2.125, -2.4), (-2.125, 0.5), (-2.125, -0.8), (-2.125, 0.2), (-2.125, -1.3), (-2.125, -2.0),
    (-2.0, -1.8), (-2.0, -0.5), (-2.0, -2.2), (-2.0, -0.9), (-2.0, -2.6), (-2.0, 0.4),
    (-1.875, -1.0), (-1.875, -1.7), (-1.875, 0.3), (-1.875, -0.3), (-1.875, -1.4),
    (-1.75, -0.7), (-1.75, -0.4), (-1.75, -1.7), (-1.75, 0.5), (-1.75, -1.0),
    (-1.625, -0.1), (-1.625, -0.9), (-1.625, 0.8), (-1.625, 0.1), (-1.625, 0.6),
    (-1.5, 0.1), (-1.5, -0.4), (-1.5, 0.9), (-1.5, 0.5), (-1.5, -1.2),
    (-1.375, -1.3), (-1.375, -0.8), (-1.375, 0.3), (-1.375, -0.2), (-1.375, 0.7),
    (-1.25, 1.0), (-1.25, -0.4), (-1.25, -0.8), (-1.25, -0.1), (-1.25, 0.4),
    (-1.125, 0.0), (-1.125, -0.5), (-1.125, 0.7), (-1.125, -0.2), (-1.125, -0.9),
    (-1.0, 0.5), (-1.0, 0.8), (-1.0, -0.3), (-1.0, -1.0), (-1.0, 0.2),
    (-0.875, -0.3), (-0.875, 0.2), (-0.875, 1.0), (-0.875, 0.7), (-0.875, -0.6),
    (-0.75, 1.1), (-0.75, 0.6), (-0.75, -0.1), (-0.75, 0.4), (-0.75, -0.7),
    (-0.625, 0.5), (-0.625, 0.8), (-0.625, 0.2), (-0.625, -0.4), (-0.625, -0.6),
    (-0.5, -0.1), (-0.5, 0.9), (-0.5, 0.4), (-0.5, -0.7), (-0.5, 0.6),
]

panel_letters = ["a", "b", "c"]
x_labels = ["NBAR Target Brightness", "NBAR Target Greenness", "NBAR Target Wetness"]
y_labels = ["TM Brightness", "TM Greenness", "TM Wetness"]
limits = [(0, 80), (0, 40), (-40, 10)]
major_steps = [20, 10, 10]
minor_steps = [5, 1, 1]

sns.set_style("ticks")
plt.rcParams["font.family"] = ["Liberation Sans", "DejaVu Sans"]
plt.rcParams["axes.unicode_minus"] = False

fig = plt.figure(figsize=(4.72, 13.44), dpi=100)
positions = [
    [0.1928, 0.7292, 0.7818, 0.2626],
    [0.1928, 0.3854, 0.7818, 0.2634],
    [0.1928, 0.0424, 0.7818, 0.2634],
]
datasets = [a_outer + a_halo + a_fill + a_core,
            b_outer + b_halo + b_fill + b_core,
            c_outer + c_halo + c_core]

for i in range(3):
    ax = fig.add_axes(positions[i])
    df = pd.DataFrame(datasets[i], columns=["x", "y"])
    sns.scatterplot(data=df, x="x", y="y", ax=ax, marker="s", s=7,
                    color="#141414", linewidth=0, edgecolor="none")
    lo, hi = limits[i]
    ax.set_xlim(lo, hi)
    ax.set_ylim(lo, hi)
    ax.xaxis.set_major_locator(MultipleLocator(major_steps[i]))
    ax.yaxis.set_major_locator(MultipleLocator(major_steps[i]))
    ax.xaxis.set_minor_locator(MultipleLocator(minor_steps[i]))
    ax.yaxis.set_minor_locator(MultipleLocator(minor_steps[i]))
    ax.tick_params(which="both", direction="in", top=True, right=True,
                   color="#333333", width=0.7)
    ax.tick_params(which="major", length=7, labelsize=15, labelcolor="#222222")
    ax.tick_params(axis="x", which="major", pad=6.5)
    ax.tick_params(axis="y", which="major", pad=4.5)
    ax.tick_params(which="minor", length=3.5)
    for sp in ax.spines.values():
        sp.set_visible(True)
        sp.set_linewidth(0.8)
        sp.set_color("#333333")
    ax.set_xlabel(x_labels[i], fontsize=15, color="#222222", labelpad=0.5)
    ax.set_ylabel(y_labels[i], fontsize=15, color="#222222", labelpad=6)
    ax.text(-0.215, 0.985, "(" + panel_letters[i] + ")", transform=ax.transAxes,
            fontsize=15, family="Liberation Serif", style="italic",
            ha="left", va="center", color="#222222")
    fig.canvas.draw()
    shift = mtransforms.ScaledTranslation(0, 6 / 100, fig.dpi_scale_trans)
    for lab in ax.get_yticklabels():
        try:
            v = float(lab.get_text())
        except ValueError:
            continue
        if abs(v - lo) < 1e-9:
            lab.set_transform(lab.get_transform() + shift)

fig.savefig("out.png", dpi=100)
